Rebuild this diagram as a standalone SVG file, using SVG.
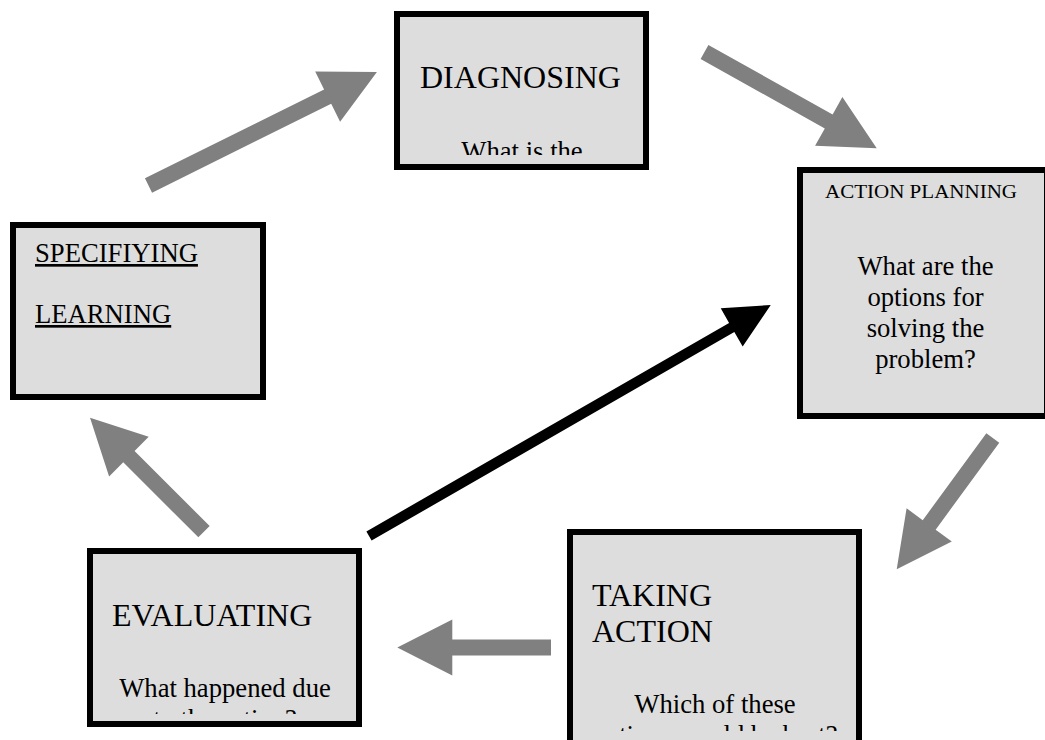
<svg xmlns="http://www.w3.org/2000/svg" width="1045" height="740" viewBox="0 0 1045 740">
<style>
.box{fill:#dddddd;stroke:#000;stroke-width:6}
text{font-family:"Liberation Serif","Times New Roman",serif;fill:#000}
.big{font-size:32px}
.body{font-size:26.67px}
.mid{text-anchor:middle}
.ul{text-decoration:underline}
.garrow{fill:#808080}
.barrow{fill:#000}
</style>
<defs>
<clipPath id="clipDiag"><rect x="400" y="17" width="243" height="138"/></clipPath>
<clipPath id="clipEval"><rect x="93" y="554" width="263" height="160"/></clipPath>
<clipPath id="clipTake"><rect x="573" y="535" width="283" height="196"/></clipPath>
</defs>
<rect width="1045" height="740" fill="#fff"/>
<g id="connectors">
<path class="garrow" transform="translate(148.5,185.5) rotate(-26.4)" d="M0,-8 H200 V-28 L255,0 L200,28 V8 H0 Z"/>
<path class="garrow" transform="translate(704.5,52) rotate(29.2)" d="M0,-8 H142.3 V-28 L197.3,0 L142.3,28 V8 H0 Z"/>
<path class="garrow" transform="translate(992.8,438) rotate(126.2)" d="M0,-8 H107.7 V-28 L162.7,0 L107.7,28 V8 H0 Z"/>
<path class="garrow" transform="translate(551,647.5) rotate(180)" d="M0,-8 H98.7 V-28 L153.7,0 L98.7,28 V8 H0 Z"/>
<path class="garrow" transform="translate(204,531.7) rotate(-135)" d="M0,-8 H106.2 V-28 L161.2,0 L106.2,28 V8 H0 Z"/>
<path class="barrow" transform="translate(369,536) rotate(-29.9)" d="M0,-5.25 H418.4 V-22 L463.4,0 L418.4,22 V5.25 H0 Z"/>
</g>
<g id="diagnosing">
<rect class="box" x="397" y="14" width="249" height="153"/>
<text class="big" x="420" y="88">DIAGNOSING</text>
<g clip-path="url(#clipDiag)">
<text class="body mid" x="522" y="159.7">What is the</text>
<text class="body mid" x="522" y="190.4">problem?</text>
</g>
</g>
<g id="action-planning">
<rect class="box" x="800" y="170" width="247" height="246"/>
<text x="825" y="198" font-size="19" textLength="192" lengthAdjust="spacingAndGlyphs">ACTION PLANNING</text>
<text class="body mid" x="925.5" y="275">What are the</text>
<text class="body mid" x="925.5" y="306">options for</text>
<text class="body mid" x="925.5" y="337">solving the</text>
<text class="body mid" x="925.5" y="368">problem?</text>
</g>
<g id="taking-action">
<rect class="box" x="570" y="532" width="289" height="220"/>
<text class="big" x="592" y="606">TAKING</text>
<text class="big" x="592" y="642">ACTION</text>
<g clip-path="url(#clipTake)">
<text class="body mid" x="715" y="713">Which of these</text>
<text class="body mid" x="715" y="743.7">options would be best?</text>
</g>
</g>
<g id="evaluating">
<rect class="box" x="90" y="551" width="269" height="173"/>
<text class="big" x="112" y="626">EVALUATING</text>
<g clip-path="url(#clipEval)">
<text class="body mid" x="225" y="697">What happened due</text>
<text class="body mid" x="225" y="727.7">to the action?</text>
</g>
</g>
<g id="specifying-learning">
<rect class="box" x="13" y="225" width="250" height="172"/>
<text class="body ul" x="35" y="262">SPECIFIYING</text>
<text class="body ul" x="35" y="323">LEARNING</text>
</g>
</svg>
